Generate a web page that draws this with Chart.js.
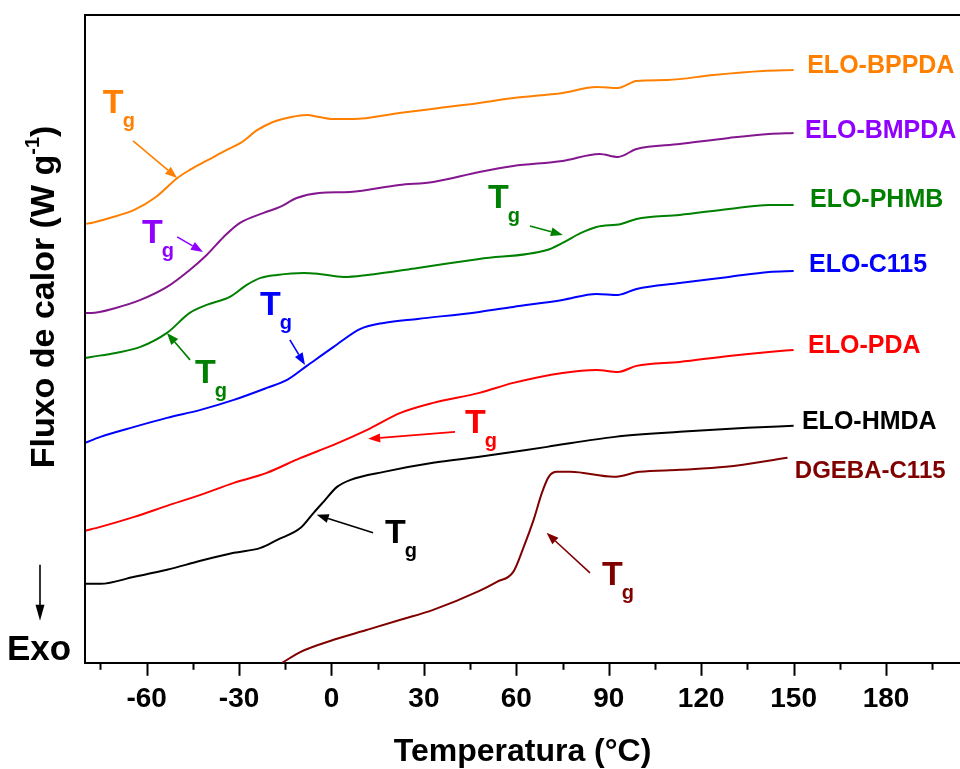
<!DOCTYPE html>
<html>
<head>
<meta charset="utf-8">
<title>DSC – Fluxo de calor</title>
<script src="https://cdn.jsdelivr.net/npm/chart.js@4.4.1/dist/chart.umd.min.js"></script>
<style>
  html, body { margin: 0; padding: 0; background: #fff; overflow: hidden; }
  canvas { display: block; }
</style>
</head>
<body>
<canvas id="dsc" width="960" height="769"></canvas>
<script>
// DSC heating curves: temperature (°C) vs. heat flow (W/g, curves offset vertically)
const eloBPPDA = [[-80,4.39],[-78,4.40],[-72,4.45],[-64,4.53],[-57,4.66],[-50,4.85],[-46,4.93],[-40,5.03],[-34,5.13],[-29.5,5.20],[-24,5.33],[-19,5.41],[-13,5.46],[-8,5.48],[-4,5.46],[0,5.44],[7,5.44],[22,5.50],[35,5.55],[48,5.60],[59,5.65],[75,5.70],[86,5.76],[93,5.75],[99,5.82],[109,5.83],[124,5.88],[140,5.92],[150,5.93]];
const eloBMPDA = [[-80,3.50],[-78,3.50],[-70,3.55],[-62,3.63],[-53.4,3.76],[-46,3.93],[-40.5,4.08],[-35,4.26],[-29.7,4.40],[-22,4.50],[-16.7,4.56],[-11.3,4.65],[-4,4.70],[6,4.71],[22,4.78],[33,4.81],[48,4.91],[59,4.97],[75,5.02],[87,5.09],[93,5.06],[99,5.14],[113,5.19],[129,5.25],[142,5.29],[150,5.30]];
const eloPHMB = [[-80,3.05],[-78,3.06],[-70,3.10],[-62,3.16],[-53.4,3.30],[-46,3.50],[-40.5,3.58],[-33,3.66],[-27.5,3.78],[-23,3.85],[-17.7,3.88],[-9,3.90],[-4,3.89],[4,3.86],[11.6,3.88],[28,3.95],[48,4.04],[70,4.13],[75,4.20],[81,4.30],[86,4.36],[94,4.39],[99,4.44],[113,4.48],[129,4.54],[142,4.58],[150,4.58]];
const eloC115 = [[-80,2.20],[-75,2.26],[-64,2.36],[-53.4,2.45],[-42.5,2.53],[-31.7,2.63],[-21,2.75],[-14.4,2.83],[-8,2.97],[0.7,3.16],[9.4,3.34],[17,3.40],[28,3.44],[48,3.51],[59,3.56],[75,3.63],[86,3.69],[93,3.68],[99,3.74],[113,3.80],[129,3.86],[142,3.91],[150,3.92]];
const eloPDA = [[-80,1.32],[-75,1.36],[-64,1.46],[-53.4,1.57],[-42.5,1.68],[-31.7,1.80],[-21,1.90],[-10,2.05],[0.7,2.18],[11.6,2.33],[22.4,2.50],[33,2.60],[48,2.70],[59,2.80],[75,2.90],[86,2.93],[93,2.91],[99,2.97],[113,3.01],[129,3.07],[142,3.11],[150,3.13]];
const eloHMDA = [[-80,0.79],[-75,0.79],[-64,0.86],[-53.4,0.93],[-42.5,1.02],[-31.7,1.10],[-23,1.15],[-17.6,1.23],[-10,1.35],[-5.8,1.50],[-2.6,1.61],[1.8,1.76],[6.2,1.83],[17,1.91],[33,2.00],[48,2.06],[70,2.16],[92,2.26],[113,2.31],[135,2.35],[150,2.37]];
const dgebaC115 = [[-16,0.00],[-10,0.11],[0.7,0.23],[11.6,0.33],[22.4,0.43],[33,0.53],[48,0.72],[53.7,0.81],[59,0.91],[62.4,1.16],[65.6,1.43],[68.3,1.70],[70.5,1.86],[73.2,1.91],[77.5,1.91],[91.6,1.86],[100,1.91],[113,1.93],[128,1.96],[148,2.05]];

const seriesNames  = ['ELO-BPPDA', 'ELO-BMPDA', 'ELO-PHMB', 'ELO-C115', 'ELO-PDA', 'ELO-HMDA', 'DGEBA-C115'];
const seriesData   = [eloBPPDA, eloBMPDA, eloPHMB, eloC115, eloPDA, eloHMDA, dgebaC115];
const lineColors   = ['#FF8000', '#84178F', '#008000', '#0000FF', '#FF0000', '#000000', '#800000'];
const nameColors   = ['#FF8000', '#8F00FF', '#008000', '#0000FF', '#FF0000', '#000000', '#800000'];
// where each curve name sits (temperature, heat flow)
const nameAnchors  = [[154.4,5.97],[153.7,5.32],[155.3,4.63],[155.0,3.98],[154.7,3.17],[152.7,2.41],[150.4,1.91]];

// glass-transition callouts: text anchor, arrow tail, arrow tip (temperature, heat flow)
const tgColors  = ['#FF8000', '#8F00FF', '#008000', '#0000FF', '#008000', '#FF0000', '#000000', '#800000'];
const tgAnchors = [[-74.2,5.50],[-61.5,4.20],[-44.3,2.80],[-23.2,3.48],[50.8,4.55],[43.3,2.30],[17.4,1.20],[87.8,0.78]];
const tgTails   = [[-64.4,5.22],[-50.1,4.26],[-45.9,3.03],[-13.5,3.23],[64.4,4.37],[40.1,2.31],[13.5,1.30],[83.9,0.90]];
const tgTips    = [[-50.1,4.85],[-41.7,4.11],[-53.4,3.30],[-8.6,2.98],[75.1,4.28],[11.9,2.24],[-4.8,1.48],[69.8,1.30]];

const xRange = [-80, 204];
const yRange = [0, 6.48];
const FONT = "'Liberation Sans', Arial, Helvetica, sans-serif";

function drawArrow(ctx, x0, y0, x1, y1, color) {
  const ang = Math.atan2(y1 - y0, x1 - x0);
  const head = 12, half = 4.5;
  const bx = x1 - head * Math.cos(ang), by = y1 - head * Math.sin(ang);
  ctx.strokeStyle = color;
  ctx.fillStyle = color;
  ctx.lineWidth = 1.6;
  ctx.beginPath();
  ctx.moveTo(x0, y0);
  ctx.lineTo(bx, by);
  ctx.stroke();
  ctx.beginPath();
  ctx.moveTo(x1, y1);
  ctx.lineTo(bx + half * Math.sin(ang), by - half * Math.cos(ang));
  ctx.lineTo(bx - half * Math.sin(ang), by + half * Math.cos(ang));
  ctx.closePath();
  ctx.fill();
}

const decorations = {
  id: 'dscDecorations',
  afterDraw(chart) {
    const { ctx, chartArea: ca, scales: { x, y } } = chart;
    ctx.save();

    // left axis and top frame line
    ctx.strokeStyle = '#000';
    ctx.lineWidth = 2;
    ctx.beginPath();
    ctx.moveTo(ca.left, ca.bottom + 1);
    ctx.lineTo(ca.left, ca.top);
    ctx.lineTo(ca.right, ca.top);
    ctx.stroke();

    // outward tick marks: long every 30 °C, short in between
    ctx.lineWidth = 2;
    x.ticks.forEach(t => {
      const px = Math.round(x.getPixelForValue(t.value)) + 0.5;
      const len = (t.value % 30 === 0) ? 13 : 7;
      ctx.beginPath();
      ctx.moveTo(px, ca.bottom);
      ctx.lineTo(px, ca.bottom + len);
      ctx.stroke();
    });

    // curve names
    ctx.textBaseline = 'middle';
    ctx.textAlign = 'left';
    seriesNames.forEach((name, i) => {
      ctx.font = (i === 6 ? 'bold 24px ' : 'bold 25px ') + FONT;
      ctx.fillStyle = nameColors[i];
      ctx.fillText(name, x.getPixelForValue(nameAnchors[i][0]), y.getPixelForValue(nameAnchors[i][1]));
    });

    // Tg callouts
    ctx.textBaseline = 'alphabetic';
    tgAnchors.forEach((a, i) => {
      const px = x.getPixelForValue(a[0]), py = y.getPixelForValue(a[1]);
      ctx.fillStyle = tgColors[i];
      ctx.font = 'bold 34px ' + FONT;
      ctx.fillText('T', px, py);
      const w = ctx.measureText('T').width;
      ctx.font = 'bold 20px ' + FONT;
      ctx.fillText('g', px + w - 1, py + 14);
      drawArrow(ctx,
        x.getPixelForValue(tgTails[i][0]), y.getPixelForValue(tgTails[i][1]),
        x.getPixelForValue(tgTips[i][0]), y.getPixelForValue(tgTips[i][1]),
        tgColors[i]);
    });

    // vertical axis title with superscript unit
    const main = 'Fluxo de calor (W g', sup = '-1', close = ')';
    ctx.fillStyle = '#000';
    ctx.font = 'bold 34px ' + FONT;
    const wMain = ctx.measureText(main).width, wClose = ctx.measureText(close).width;
    ctx.font = 'bold 20px ' + FONT;
    const wSup = ctx.measureText(sup).width;
    const total = wMain + wSup + wClose;
    ctx.translate(ca.left - 31, ca.top + 282);
    ctx.rotate(-Math.PI / 2);
    ctx.textAlign = 'left';
    let cx = -total / 2;
    ctx.font = 'bold 34px ' + FONT;
    ctx.fillText(main, cx, 0);
    cx += wMain;
    ctx.font = 'bold 20px ' + FONT;
    ctx.fillText(sup, cx, -15);
    cx += wSup;
    ctx.font = 'bold 34px ' + FONT;
    ctx.fillText(close, cx, 0);
    ctx.setTransform(1, 0, 0, 1, 0, 0);

    // exothermic direction marker
    const ax = ca.left - 45;
    ctx.strokeStyle = '#000';
    ctx.fillStyle = '#000';
    ctx.lineWidth = 1.6;
    ctx.beginPath();
    ctx.moveTo(ax, ca.bottom - 98);
    ctx.lineTo(ax, ca.bottom - 50);
    ctx.stroke();
    ctx.beginPath();
    ctx.moveTo(ax, ca.bottom - 42);
    ctx.lineTo(ax - 4.5, ca.bottom - 58);
    ctx.lineTo(ax + 4.5, ca.bottom - 58);
    ctx.closePath();
    ctx.fill();
    ctx.font = 'bold 35px ' + FONT;
    ctx.textAlign = 'center';
    ctx.textBaseline = 'alphabetic';
    ctx.fillText('Exo', ax - 1, ca.bottom - 3);

    ctx.restore();
  }
};

new Chart(document.getElementById('dsc'), {
  type: 'line',
  data: {
    datasets: seriesNames.map((name, i) => ({
      label: name,
      data: seriesData[i].map(([t, q]) => ({ x: t, y: q })),
      borderColor: lineColors[i],
      backgroundColor: lineColors[i],
      borderWidth: 2,
      pointRadius: 0,
      fill: false,
      cubicInterpolationMode: 'monotone'
    }))
  },
  options: {
    responsive: false,
    animation: false,
    devicePixelRatio: 1,
    layout: { padding: { left: 85, top: 15, right: 0, bottom: 0 } },
    plugins: { legend: { display: false }, tooltip: { enabled: false } },
    scales: {
      x: {
        type: 'linear',
        min: xRange[0],
        max: xRange[1],
        grid: { display: false, drawTicks: true, tickLength: 13 },
        border: { display: true, color: '#000', width: 2 },
        ticks: {
          stepSize: 15,
          includeBounds: false,
          autoSkip: false,
          maxRotation: 0,
          padding: 7,
          color: '#000',
          font: { family: FONT, size: 28, weight: 'bold' },
          callback: v => (v % 30 === 0 ? String(v) : '')
        },
        title: {
          display: true,
          text: 'Temperatura (°C)',
          color: '#000',
          font: { family: FONT, size: 32, weight: 'bold', lineHeight: 1.05 },
          padding: { top: 12, bottom: 0 }
        }
      },
      y: {
        type: 'linear',
        display: false,
        min: yRange[0],
        max: yRange[1]
      }
    }
  },
  plugins: [decorations]
});
</script>
</body>
</html>
